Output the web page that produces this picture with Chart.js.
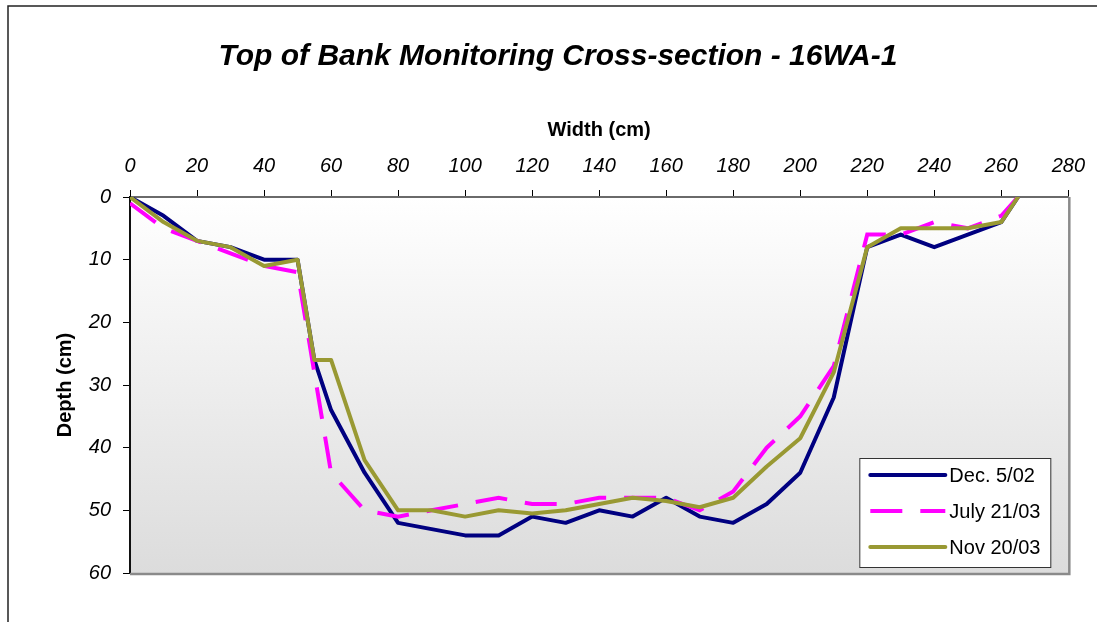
<!DOCTYPE html>
<html><head><meta charset="utf-8">
<script src="https://cdn.jsdelivr.net/npm/chart.js@4/dist/chart.umd.min.js"></script>
<style>html,body{margin:0;padding:0;background:#fff;overflow:hidden}</style>
</head><body>
<canvas id="c" width="1097" height="622"></canvas>
<script>
// ---- data ----
const chartTitle = "Top of Bank Monitoring Cross-section - 16WA-1";
const xTitle = "Width (cm)";
const yTitle = "Depth (cm)";
const seriesNames = ["Dec. 5/02", "July 21/03", "Nov 20/03"];
const widthCm = [0,10,20,30,40,50,55,60,70,80,90,100,110,120,130,140,150,160,170,180,190,200,210,220,230,240,250,260,265];
const depthDec02  = [0,3,7,8,10,10,26,34,44,52,53,54,54,51,52,50,51,48,51,52,49,44,32,8,6,8,6,4,0];
const depthJuly03 = [1,5,7,9,11,12,28,44,50,51,50,49,48,49,49,48,48,48,50,47,40,35,27,6,6,4,5,3,0];
const depthNov03  = [0,4,7,8,11,10,26,26,42,50,50,51,50,50.5,50,49,48,48.5,49.5,48,43,38.5,28,8,5,5,5,4,0];
const xTicks = [0,20,40,60,80,100,120,140,160,180,200,220,240,260,280];
const yTicks = [0,10,20,30,40,50,60];

const FONT = "'Liberation Sans', Arial, Helvetica, sans-serif";
const toPts = (ys) => ys.map((y, i) => ({x: widthCm[i], y: y}));

const bgPlugin = {
  id: 'bg',
  beforeDraw(chart) {
    const ctx = chart.ctx, ca = chart.chartArea;
    ctx.save();
    ctx.fillStyle = '#fff';
    ctx.fillRect(0, 0, chart.width, chart.height);
    // outer frame (left + top)
    ctx.strokeStyle = '#222';
    ctx.lineWidth = 1.5;
    ctx.beginPath();
    ctx.moveTo(8, chart.height + 2); ctx.lineTo(8, 6); ctx.lineTo(chart.width + 2, 6);
    ctx.stroke();
    // plot area gradient
    const g = ctx.createLinearGradient(0, ca.top, 0, ca.bottom);
    g.addColorStop(0, '#ffffff');
    g.addColorStop(1, '#dcdcdc');
    ctx.fillStyle = g;
    ctx.fillRect(ca.left, ca.top, ca.right - ca.left, ca.bottom - ca.top);
    ctx.restore();
  },
  beforeDatasetsDraw(chart) {
    const ctx = chart.ctx, ca = chart.chartArea;
    ctx.save();
    ctx.strokeStyle = '#8a8a8a';
    ctx.lineWidth = 2.5;
    ctx.beginPath();
    ctx.moveTo(ca.left, ca.bottom + 1); ctx.lineTo(ca.right + 1, ca.bottom + 1); ctx.lineTo(ca.right + 1, ca.top);
    ctx.stroke();
    ctx.restore();
  }
};

const legendPlugin = {
  id: 'boxLegend',
  afterDatasetsDraw(chart) {
    const ctx = chart.ctx, ca = chart.chartArea;
    const left = ca.right - 209, top = ca.bottom - 115, w = 191, h = 109;
    ctx.save();
    ctx.fillStyle = '#fff';
    ctx.fillRect(left, top, w, h);
    ctx.strokeStyle = '#333';
    ctx.lineWidth = 1;
    ctx.strokeRect(left + 0.5, top + 0.5, w, h);
    chart.data.datasets.forEach((ds, i) => {
      const y = top + 17 + i * 36;
      ctx.strokeStyle = ds.borderColor;
      ctx.lineWidth = 4;
      ctx.setLineDash(ds.borderDash || []);
      ctx.lineCap = ds.borderDash ? 'butt' : 'round';
      ctx.beginPath();
      ctx.moveTo(left + 11, y); ctx.lineTo(left + 86, y);
      ctx.stroke();
      ctx.setLineDash([]);
      ctx.fillStyle = '#000';
      ctx.font = '20px ' + FONT;
      ctx.textBaseline = 'middle';
      ctx.textAlign = 'left';
      ctx.fillText(ds.label, left + 90, y + 1);
    });
    ctx.restore();
  }
};

new Chart(document.getElementById('c'), {
  type: 'scatter',
  data: {
    datasets: [
      {label: seriesNames[0], data: toPts(depthDec02), borderColor: '#000080', backgroundColor: '#000080',
       showLine: true, borderWidth: 4, pointRadius: 0, tension: 0, borderJoinStyle: 'round', borderCapStyle: 'round', order: 3},
      {label: seriesNames[1], data: toPts(depthJuly03), borderColor: '#ff00ff', backgroundColor: '#ff00ff',
       showLine: true, borderWidth: 4, pointRadius: 0, tension: 0, borderDash: [32, 18], borderCapStyle: 'butt', order: 2},
      {label: seriesNames[2], data: toPts(depthNov03), borderColor: '#999933', backgroundColor: '#999933',
       showLine: true, borderWidth: 4, pointRadius: 0, tension: 0, borderJoinStyle: 'round', borderCapStyle: 'round', order: 1}
    ]
  },
  options: {
    responsive: false,
    animation: false,
    devicePixelRatio: 1,
    layout: {padding: {left: 46, right: 27, top: 0, bottom: 49}},
    plugins: {
      legend: {display: false},
      tooltip: {enabled: false},
      title: {display: true, text: chartTitle, color: '#000',
        font: {family: FONT, size: 30, weight: 'bold', style: 'italic', lineHeight: 1.2},
        padding: {top: 39, bottom: 0}}
    },
    scales: {
      x: {
        type: 'linear', position: 'top', min: 0, max: 280,
        afterBuildTicks: (s) => { s.ticks = xTicks.map(v => ({value: v})); },
        afterFit: (s) => { s.height = 122; },
        ticks: {color: '#000', padding: 12, maxRotation: 0, autoSkip: false,
          font: {family: FONT, size: 20, style: 'italic'}},
        grid: {drawOnChartArea: false, drawTicks: true, tickLength: 7, color: '#000', lineWidth: 1},
        border: {display: true, color: '#6a6a6a', width: 2},
        title: {display: true, text: xTitle, color: '#000', padding: {top: 43, bottom: 0},
          font: {family: FONT, size: 20, weight: 'bold', lineHeight: 1.2}}
      },
      y: {
        type: 'linear', position: 'left', reverse: true, min: 0, max: 60,
        afterBuildTicks: (s) => { s.ticks = yTicks.map(v => ({value: v})); },
        afterFit: (s) => { s.width = 84; },
        ticks: {color: '#000', padding: 12, autoSkip: false,
          font: {family: FONT, size: 20, style: 'italic'}},
        grid: {drawOnChartArea: false, drawTicks: true, tickLength: 7, color: '#000', lineWidth: 1},
        border: {display: true, color: '#111', width: 2},
        title: {display: true, text: yTitle, color: '#000', padding: {top: 7, bottom: 0},
          font: {family: FONT, size: 20, weight: 'bold', lineHeight: 1.2}}
      }
    }
  },
  plugins: [bgPlugin, legendPlugin]
});
</script>
</body></html>
